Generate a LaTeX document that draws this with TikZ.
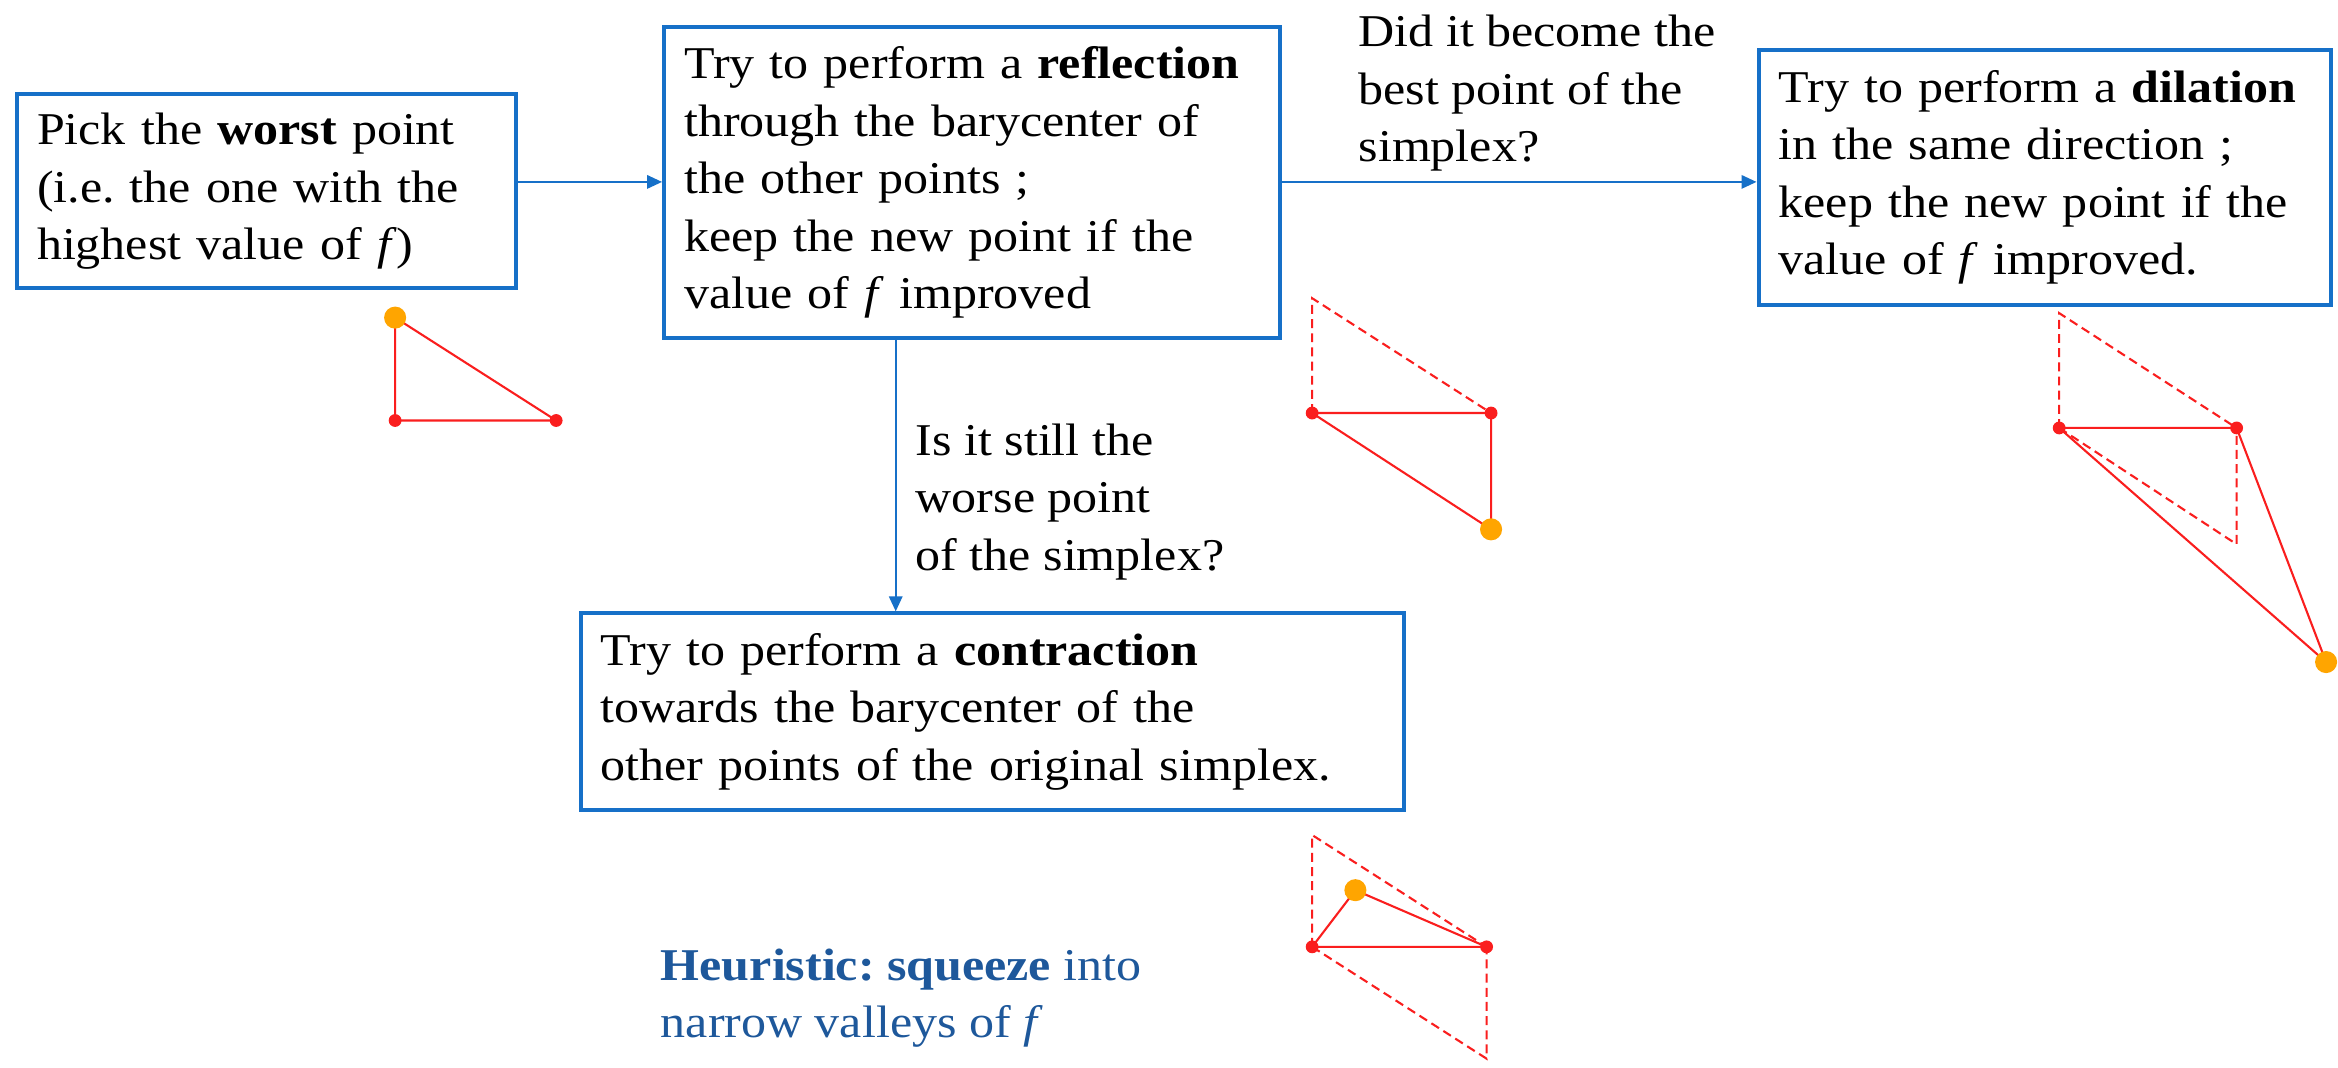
\documentclass[tikz,border=0pt]{standalone}
\usepackage{fontspec}
\setmainfont{Liberation Serif}[FakeStretch=1.10]
\usetikzlibrary{arrows.meta,calc}
\definecolor{boxblue}{RGB}{22,112,200}
\definecolor{simred}{RGB}{250,30,30}
\definecolor{simorange}{RGB}{255,165,0}
\definecolor{heurblue}{RGB}{30,88,155}
\frenchspacing
\begin{document}
\begin{tikzpicture}[x=1pt,y=-1pt,
  txt/.style={font=\fontsize{30.5}{38.5}\selectfont, align=left, inner sep=0pt, anchor=north west},
  stepbox/.style={txt, draw=boxblue, line width=2.7pt, inner xsep=13.5pt},
  arr/.style={draw=boxblue, line width=1.2pt, -{Triangle[length=10pt,width=9pt]}},
  solid edge/.style={draw=simred, line width=1.4pt, line join=round},
  dash edge/.style={draw=simred, line width=1.4pt, dash pattern=on 6pt off 3.5pt},
  rdot/.style={fill=simred},
  odot/.style={fill=simorange}]
\useasboundingbox (0,0) rectangle (1568,716);
\fill[white] (0,0) rectangle (1568,716);

% boxes
\node[stepbox, text width=308pt, minimum height=130pt] (b1) at (10,62)
  {Pick the \textbf{worst} point\\(i.e. the one with the\\highest value of \textit{f})};
\node[stepbox, text width=386pt, minimum height=208pt] (b2) at (444,17)
  {Try to perform a \textbf{reflection}\\through the barycenter of\\the other points ;\\keep the new point if the\\value of \textit{f} improved};
\node[stepbox, text width=357pt, minimum height=171pt] (b3) at (1178,32)
  {Try to perform a \textbf{dilation}\\in the same direction ;\\keep the new point if the\\value of \textit{f} improved.};
\node[stepbox, text width=525pt, minimum height=132pt] (b4) at (388,410)
  {Try to perform a \textbf{contraction}\\towards the barycenter of the\\other points of the original simplex.};

% labels
\node[txt] (l1) at (911,10) {Did it become the\\best point of the\\simplex?};
\node[txt] (l2) at (614,284) {Is it still the\\worse point\\of the simplex?};
\node[txt, text=heurblue] (l3) at (443,636) {\textbf{Heuristic: squeeze} into\\narrow valleys of \textit{f}};

% connectors
\coordinate (c1) at (0,122);
\draw[arr] (b1.east |- c1) -- (b2.west |- c1);
\draw[arr] (b2.east |- c1) -- (b3.west |- c1);
\coordinate (c2) at ($(b2.south west)!0.377!(b2.south east)$);
\draw[arr] (c2) -- (c2 |- b4.north);

% simplex 1
\coordinate (a1) at (265,213);
\coordinate (a2) at (265,282);
\coordinate (a3) at (373,282);
\draw[solid edge] (a1) -- (a2) -- (a3) -- cycle;
\fill[rdot] (a2) circle (4.3pt) (a3) circle (4.3pt);
\fill[odot] (a1) circle (7.4pt);

% simplex 2 (reflection)
\coordinate (r0) at (880,200);
\coordinate (r1) at (880,277);
\coordinate (r2) at (1000,277);
\coordinate (r3) at (1000,355);
\draw[dash edge] (r1) -- (r0) -- (r2);
\draw[solid edge] (r1) -- (r2) -- (r3) -- cycle;
\fill[rdot] (r1) circle (4.3pt) (r2) circle (4.3pt);
\fill[odot] (r3) circle (7.4pt);

% simplex 3 (dilation)
\coordinate (d0) at (1381,210);
\coordinate (d1) at (1381,287);
\coordinate (d2) at (1500,287);
\coordinate (d3) at (1500,365);
\coordinate (d4) at (1560,444);
\draw[dash edge] (d1) -- (d0) -- (d2);
\draw[dash edge] (d1) -- (d3) -- (d2);
\draw[solid edge] (d1) -- (d2) -- (d4) -- cycle;
\fill[rdot] (d1) circle (4.3pt) (d2) circle (4.3pt);
\fill[odot] (d4) circle (7.4pt);

% simplex 4 (contraction)
\coordinate (k0) at (880,560);
\coordinate (k1) at (880,635);
\coordinate (k2) at (997,635);
\coordinate (k3) at (997,710);
\coordinate (k4) at (909,597);
\draw[dash edge] (k1) -- (k0) -- (k2);
\draw[dash edge] (k1) -- (k3) -- (k2);
\draw[solid edge] (k1) -- (k2) -- (k4) -- cycle;
\fill[rdot] (k1) circle (4.3pt) (k2) circle (4.3pt);
\fill[odot] (k4) circle (7.4pt);
\end{tikzpicture}
\end{document}
